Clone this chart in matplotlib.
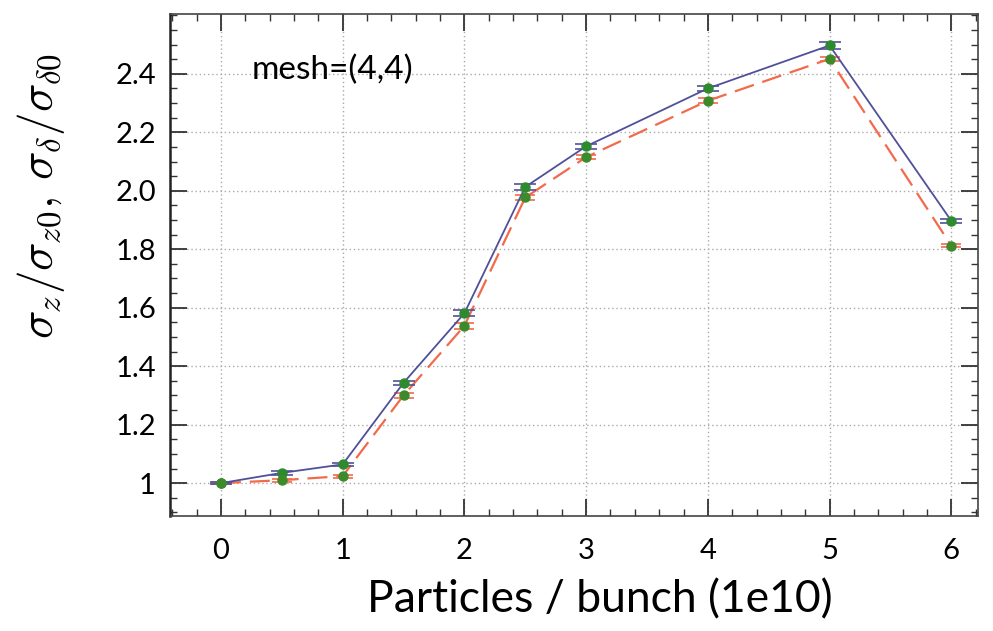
import matplotlib
matplotlib.use('Agg')
from matplotlib import pyplot as plt
from matplotlib.ticker import MultipleLocator
import numpy as np

# Data
particles = [0, 0.5, 1, 1.5, 2, 2.5, 3, 4, 5, 6]
sigma_z = [1.0, 1.035, 1.064, 1.343, 1.581, 2.013, 2.152, 2.350, 2.497, 1.897]
sigma_z_err = [0.004, 0.006, 0.005, 0.008, 0.010, 0.010, 0.008, 0.010, 0.012, 0.006]
sigma_d = [1.0, 1.010, 1.024, 1.300, 1.538, 1.977, 2.115, 2.308, 2.451, 1.812]
sigma_d_err = [0.004, 0.005, 0.005, 0.008, 0.010, 0.010, 0.008, 0.008, 0.008, 0.005]
yticks = [1.0, 1.2, 1.4, 1.6, 1.8, 2.0, 2.2, 2.4]
yticklabels = ['1', '1.2', '1.4', '1.6', '1.8', '2.0', '2.2', '2.4']
xticks = [0, 1, 2, 3, 4, 5, 6]

plt.rcParams['font.family'] = ['Lato', 'DejaVu Sans']
plt.rcParams['mathtext.fontset'] = 'cm'

fig = plt.figure(figsize=(9.93, 6.31), dpi=100)
ax = fig.add_axes([0.171, 0.182, 0.814, 0.796])

# Lines
ax.errorbar(particles, sigma_z, yerr=sigma_z_err, color='#50509a', lw=1.3,
            capsize=8, capthick=1.2, elinewidth=1.2, zorder=3)
ax.errorbar(particles, sigma_d, yerr=sigma_d_err, color='#f26a4a', lw=1.6,
            dashes=(9, 4), capsize=7, capthick=1.2, elinewidth=1.2, zorder=2)
ax.plot(particles, sigma_z, 'o', color='#2e8a2e', ms=6.5, zorder=4)
ax.plot(particles, sigma_d, 'o', color='#3d8a2a', ms=6.5, zorder=4)

# Axes styling
ax.set_xlim(-0.42, 6.22)
ax.set_ylim(0.887, 2.605)
ax.set_xticks(xticks)
ax.set_xticklabels([str(x) for x in xticks])
ax.set_yticks(yticks)
ax.set_yticklabels(yticklabels)
ax.xaxis.set_minor_locator(MultipleLocator(0.2))
ax.yaxis.set_minor_locator(MultipleLocator(0.05))
ax.tick_params(which='both', direction='in', top=True, right=True, labelsize=21,
               color='#333333')
ax.tick_params(which='major', length=12, width=1.3, pad=10)
ax.tick_params(axis='x', which='major', pad=16)
ax.tick_params(which='minor', length=5, width=1.0)
ax.grid(True, which='major', linestyle=(0, (1, 2)), color='#aaaaaa', lw=1.0)
for s in ax.spines.values():
    s.set_color('#444444')
    s.set_linewidth(1.2)
ax.spines['left'].set_linewidth(1.8)
ax.spines['left'].set_color('#222222')

ax.set_xlabel('Particles / bunch (1e10)', fontsize=32)
ax.xaxis.set_label_coords(0.532, -0.125)
ax.set_ylabel(r'$\sigma_z/\sigma_{z0},\,\sigma_\delta/\sigma_{\delta0}$',
              fontsize=34)
ax.yaxis.set_label_coords(-0.127, 0.637)

ax.text(0.25, 2.415, 'mesh=(4,4)', fontsize=24, va='center', ha='left')

plt.savefig('out.png', dpi=100)
